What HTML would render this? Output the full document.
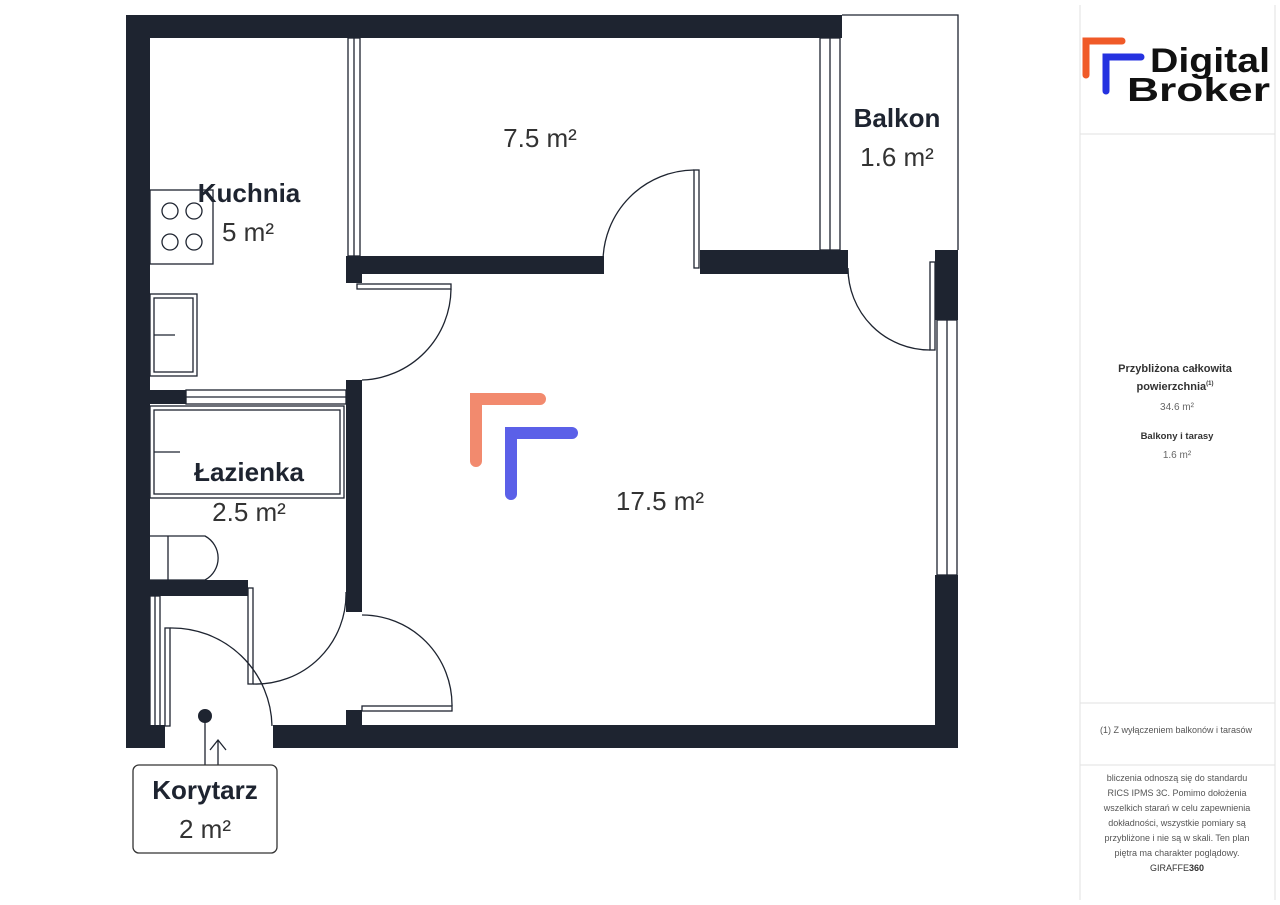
<!DOCTYPE html>
<html><head><meta charset="utf-8"><style>
body{margin:0;background:#fff;width:1280px;height:905px;overflow:hidden;font-family:"Liberation Sans",sans-serif}
</style></head><body>
<svg width="1280" height="905" xmlns="http://www.w3.org/2000/svg" style="position:absolute;left:0;top:0">
<g fill="#1e2430">
<rect x="126" y="15" width="716" height="23"/>
<rect x="126" y="15" width="24" height="733"/>
<rect x="126" y="725" width="39" height="23"/>
<rect x="273" y="725" width="685" height="23"/>
<rect x="935" y="250" width="23" height="70"/>
<rect x="935" y="575" width="23" height="173"/>
<rect x="346" y="256" width="258" height="18"/>
<rect x="700" y="250" width="148" height="24"/>
<rect x="346" y="256" width="16" height="27"/>
<rect x="346" y="380" width="16" height="232"/>
<rect x="346" y="710" width="16" height="15"/>
<rect x="150" y="390" width="36" height="14"/>
<rect x="150" y="580" width="98" height="16"/>
</g>
<g fill="none" stroke="#1e2430" stroke-width="1.3">
<rect x="348" y="38" width="12" height="218"/><line x1="354" y1="38" x2="354" y2="256"/>
<rect x="820" y="38" width="20" height="212"/><line x1="830" y1="38" x2="830" y2="250"/>
<polyline points="842,15 958,15 958,250"/>
<rect x="937" y="320" width="20" height="255"/><line x1="947" y1="320" x2="947" y2="575"/>
<rect x="186" y="390" width="160" height="14"/><line x1="186" y1="397" x2="346" y2="397"/>
<rect x="150" y="190" width="63" height="74"/>
<circle cx="170" cy="211" r="8"/><circle cx="194" cy="211" r="8"/><circle cx="170" cy="242" r="8"/><circle cx="194" cy="242" r="8"/>
<rect x="150" y="294" width="47" height="82"/><rect x="154" y="298" width="39" height="74"/><line x1="154" y1="335" x2="175" y2="335"/>
<rect x="150" y="406" width="194" height="92"/><rect x="154" y="410" width="186" height="84"/><line x1="154" y1="452" x2="180" y2="452"/>
<path d="M150,536 H205 A25,25 0 0 1 205,580 H150"/><line x1="168" y1="536" x2="168" y2="580"/>
<rect x="150" y="596" width="10" height="130"/><line x1="155" y1="596" x2="155" y2="726"/>
<rect x="165" y="628" width="5" height="98"/><path d="M170,628 A100,100 0 0 1 272,726"/>
<rect x="248" y="588" width="5" height="96"/><path d="M253,684 A90,90 0 0 0 346,592"/>
<rect x="362" y="706" width="90" height="5"/><path d="M452,706 A90,90 0 0 0 362,615"/>
<rect x="357" y="284" width="94" height="5"/><path d="M451,289 A92,92 0 0 1 362,380"/>
<rect x="694" y="170" width="5" height="98"/><path d="M694,170 A92,92 0 0 0 603,262"/>
<rect x="930" y="262" width="5" height="88"/><path d="M930,350 A82,82 0 0 1 848,268"/>
<line x1="205" y1="716" x2="205" y2="765"/><polyline points="210,750 218,740 226,750" /><line x1="218" y1="740" x2="218" y2="765"/>
</g>
<circle cx="205" cy="716" r="7" fill="#1e2430"/>
<rect x="133" y="765" width="144" height="88" rx="6" fill="#fff" stroke="#333" stroke-width="1.3"/>
<g stroke-linecap="round" fill="none" stroke-width="12">
<polyline points="476,461 476,399 540,399" stroke="#f28a6e"/>
<polyline points="511,494 511,433 572,433" stroke="#5b60e8"/>
</g>
<g font-family="Liberation Sans,sans-serif" text-anchor="middle" fill="#1e2430">
<text x="249" y="202" font-size="26" font-weight="bold">Kuchnia</text>
<text x="248" y="241" font-size="26" fill="#333">5 m²</text>
<text x="540" y="147" font-size="26" fill="#333">7.5 m²</text>
<text x="897" y="127" font-size="26" font-weight="bold">Balkon</text>
<text x="897" y="166" font-size="26" fill="#333">1.6 m²</text>
<text x="249" y="481" font-size="26" font-weight="bold">Łazienka</text>
<text x="249" y="521" font-size="26" fill="#333">2.5 m²</text>
<text x="660" y="510" font-size="26" fill="#333">17.5 m²</text>
<text x="205" y="799" font-size="26" font-weight="bold">Korytarz</text>
<text x="205" y="838" font-size="26" fill="#333">2 m²</text>
</g>
<g fill="none" stroke="#e2e2e2" stroke-width="1">
<line x1="1080" y1="5" x2="1080" y2="900"/><line x1="1275" y1="5" x2="1275" y2="900"/>
<line x1="1080" y1="134" x2="1275" y2="134"/><line x1="1080" y1="703" x2="1275" y2="703"/><line x1="1080" y1="765" x2="1275" y2="765"/>
</g>
<g stroke-linecap="round" fill="none" stroke-width="7">
<polyline points="1086,75 1086,41 1122,41" stroke="#f05a28"/>
<polyline points="1106,91 1106,57 1141,57" stroke="#2532e0"/>
</g>
<g font-family="Liberation Sans,sans-serif" fill="#111" font-weight="bold">
<text x="1150" y="72" font-size="34" textLength="120" lengthAdjust="spacingAndGlyphs">Digital</text>
<text x="1127" y="101" font-size="33" textLength="143" lengthAdjust="spacingAndGlyphs">Broker</text>
</g>
<g font-family="Liberation Sans,sans-serif" text-anchor="middle" fill="#333">
<text x="1175" y="372" font-size="11" font-weight="bold">Przybliżona całkowita</text>
<text x="1175" y="390" font-size="11" font-weight="bold">powierzchnia<tspan font-size="6" dy="-5">(1)</tspan></text>
<text x="1177" y="410" font-size="10" fill="#666">34.6 m²</text>
<text x="1177" y="439" font-size="9.5" font-weight="bold">Balkony i tarasy</text>
<text x="1177" y="458" font-size="10" fill="#666">1.6 m²</text>
<text x="1176" y="733" font-size="9" fill="#555">(1) Z wyłączeniem balkonów i tarasów</text>
<g font-size="9" fill="#555">
<text x="1177" y="781">bliczenia odnoszą się do standardu</text>
<text x="1177" y="796">RICS IPMS 3C. Pomimo dołożenia</text>
<text x="1177" y="811">wszelkich starań w celu zapewnienia</text>
<text x="1177" y="826">dokładności, wszystkie pomiary są</text>
<text x="1177" y="841">przybliżone i nie są w skali. Ten plan</text>
<text x="1177" y="856">piętra ma charakter poglądowy.</text>
</g>
<text x="1177" y="871" font-size="9" fill="#333">GIRAFFE<tspan font-weight="bold">360</tspan></text>
</g>
</svg>
</body></html>
